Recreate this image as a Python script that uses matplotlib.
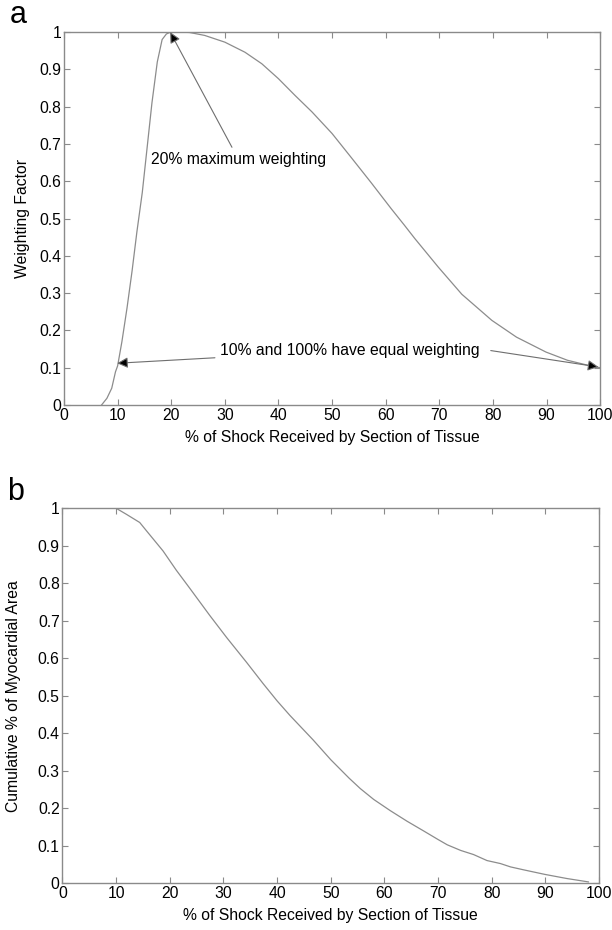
import matplotlib
matplotlib.use("Agg")
import matplotlib.pyplot as plt

plt.rcParams['font.family'] = ['Liberation Sans', 'DejaVu Sans']

# panel a: weighting factor vs % shock received
weight_x = [7.0, 8.0, 8.9, 9.6, 10.0, 10.8, 11.75, 12.7, 13.6, 14.6, 15.5, 16.4, 17.4,
            18.3, 19.1, 19.9, 21.5, 23.4, 26.25, 30.0, 33.75, 36.9, 40.0, 43.1, 46.25,
            50.0, 53.5, 57.3, 61.0, 63.5, 65.4, 69.8, 74.2, 79.8, 84.4, 89.9, 93.9, 97.6, 100.0]
weight_y = [0.0, 0.018, 0.045, 0.089, 0.105, 0.17, 0.26, 0.36, 0.465, 0.57, 0.69, 0.81, 0.92,
            0.98, 0.995, 1.0, 1.0, 0.999, 0.991, 0.973, 0.946, 0.915, 0.875, 0.83, 0.786,
            0.728, 0.665, 0.596, 0.527, 0.482, 0.447, 0.37, 0.297, 0.227, 0.182, 0.142, 0.12,
            0.107, 0.1]

# panel b: cumulative % of myocardial area
cum_x = [10.0, 11.9, 14.4, 15.65, 18.75, 21.2, 23.7, 27.45, 30.6, 34.3, 37.4, 40.0, 42.4,
         46.7, 50.0, 53.4, 55.5, 58.0, 61.1, 64.2, 67.3, 70.0, 71.7, 74.2, 76.6, 79.1,
         81.6, 83.5, 86.0, 89.9, 94.0, 98.0]
cum_y = [1.0, 0.984, 0.962, 0.94, 0.886, 0.835, 0.787, 0.714, 0.655, 0.589, 0.532, 0.486,
         0.447, 0.382, 0.329, 0.28, 0.252, 0.223, 0.193, 0.165, 0.139, 0.116, 0.102, 0.087,
         0.076, 0.06, 0.052, 0.043, 0.035, 0.023, 0.012, 0.003]

x_ticks = list(range(0, 101, 10))
x_ticklabels = [str(t) for t in x_ticks]
y_ticks = [i / 10 for i in range(11)]
y_ticklabels = ['0', '0.1', '0.2', '0.3', '0.4', '0.5', '0.6', '0.7', '0.8', '0.9', '1']

xlabel = "% of Shock Received by Section of Tissue"

fig = plt.figure(figsize=(6.12, 9.3), dpi=100)
ax1 = fig.add_axes([0.1046, 0.5645, 0.876, 0.401])
ax2 = fig.add_axes([0.102, 0.0505, 0.877, 0.403])

spine_col = '#8a8a8a'
line_col = '#8c8c8c'
fs = 11.3

for ax in (ax1, ax2):
    ax.set_xlim(0, 100)
    ax.set_ylim(0, 1)
    ax.set_xticks(x_ticks)
    ax.set_xticklabels(x_ticklabels)
    ax.set_yticks(y_ticks)
    ax.set_yticklabels(y_ticklabels)
    ax.tick_params(direction='in', length=4, width=0.8, color=spine_col,
                   top=True, right=True, labelsize=fs, pad=2)
    for s in ax.spines.values():
        s.set_color(spine_col)
        s.set_linewidth(1.0)
    ax.set_xlabel(xlabel, fontsize=fs, labelpad=5)

ax1.plot(weight_x, weight_y, color=line_col, lw=0.9)
ax1.set_ylabel("Weighting Factor", fontsize=fs, labelpad=7)

ax2.plot(cum_x, cum_y, color=line_col, lw=0.9)
ax2.set_ylabel("Cumulative % of Myocardial Area", fontsize=fs, labelpad=12)

arrow_kw = dict(arrowstyle='-|>', ec='#6e6e6e', fc='black', lw=0.8, mutation_scale=16,
                shrinkB=0)

ax1.annotate("20% maximum weighting", xy=(19.8, 1.0), xytext=(32.6, 0.657),
             ha='center', va='center', fontsize=fs, arrowprops=arrow_kw)

ax1.annotate("10% and 100% have equal weighting", xy=(9.9, 0.112), xytext=(53.4, 0.147),
             ha='center', va='center', fontsize=fs, arrowprops=arrow_kw)
ax1.annotate("", xy=(99.7, 0.102), xytext=(79.6, 0.146), arrowprops=dict(arrow_kw, shrinkA=0))

fig.text(0.03, 0.984, "a", fontsize=22, ha='center', va='center')
fig.text(0.025, 0.471, "b", fontsize=22, ha='center', va='center')

fig.savefig("out.png", dpi=100)
